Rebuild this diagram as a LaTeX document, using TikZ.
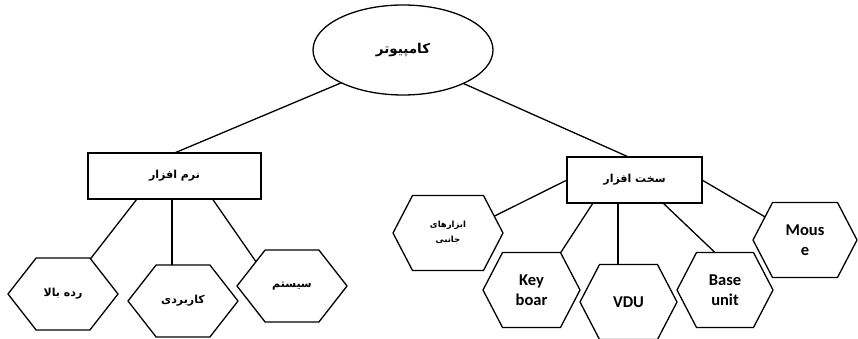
\documentclass[tikz,border=0pt]{standalone}
\usepackage{fontspec}
\setmainfont{Carlito}
\newfontfamily\fa[Script=Arabic]{DejaVu Sans}
\TeXXeTstate=1
\usetikzlibrary{shapes.geometric,shapes.symbols}
\newcommand{\fatext}[1]{{\fa\bfseries\beginR #1\endR}}

\begin{document}
\begin{tikzpicture}[x=1pt,y=-1pt,line width=1.3pt,
  hexnode/.style={draw, shape=signal, signal to=west and east, inner sep=0pt,
    outer sep=0pt, align=center, font=\bfseries\fontsize{16.5}{20}\selectfont},
  hexleft/.style={hexnode, signal pointer angle=104, minimum width=110pt, minimum height=72pt},
  hexright/.style={hexnode, signal pointer angle=125, minimum height=75pt},
  catbox/.style={draw, rectangle, minimum height=46pt, inner sep=0pt, outer sep=0pt},
  falabel/.style={font=\fontsize{11}{14}\selectfont},
  link/.style={draw, line width=1.3pt}]
\useasboundingbox (0,0) rectangle (858,339);
\clip (0,0) rectangle (858,339);

% root
\node[draw, ellipse, minimum width=180pt, minimum height=90pt, inner sep=0pt, outer sep=0pt,
  font=\fontsize{13.5}{16}\selectfont] (root) at (403,50) {\fatext{کامپیوتر}};

% two branches
\node[catbox, minimum width=173pt, falabel] (soft) at (174.5,176) {\fatext{نرم افزار}};
\node[catbox, minimum width=135pt, falabel] (hard) at (634.5,180) {\fatext{سخت افزار}};

% software leaves
\node[hexleft, falabel] (high) at (63,294) {\fatext{رده بالا}};
\node[hexleft, falabel] (app) at (183,301) {\fatext{کاربردی}};
\node[hexleft, falabel] (sys) at (292,286) {\fatext{سیستم}};

% hardware leaves
\node[hexright, minimum width=110pt, font=\fontsize{8.5}{15}\selectfont] (periph) at (448,233)
  {\fatext{ابزارهای}\\\fatext{جانبی}};
\node[hexright, minimum width=97pt] (key) at (531.5,290) {Key\\boar};
\node[hexright, minimum width=97pt] (vdu) at (628.5,302) {VDU};
\node[hexright, minimum width=96pt] (base) at (725,290) {Base\\unit};
\node[hexright, minimum width=104pt] (mouse) at (805,240) {Mous\\e};

% connectors
\draw[link] (root.208) -- (soft.north);
\draw[link] (root.331) -- ([xshift=-6pt]hard.north);

\draw[link] ([xshift=-37.5pt]soft.south) -- (high.52);
\draw[link] ([xshift=-2.5pt]soft.south) coordinate (s2) -- (s2 |- app.north);
\draw[link] ([xshift=38pt]soft.south) -- (sys.146);

\draw[link] (hard.west) -- (periph.20);
\draw[link] ([xshift=-41.5pt]hard.south) -- (key.52);
\draw[link] ([xshift=-16.5pt]hard.south) coordinate (h2) -- (h2 |- vdu.north);
\draw[link] ([xshift=28.5pt]hard.south) -- (base.105);
\draw[link] (hard.east) -- (mouse.150);
\end{tikzpicture}
\end{document}
